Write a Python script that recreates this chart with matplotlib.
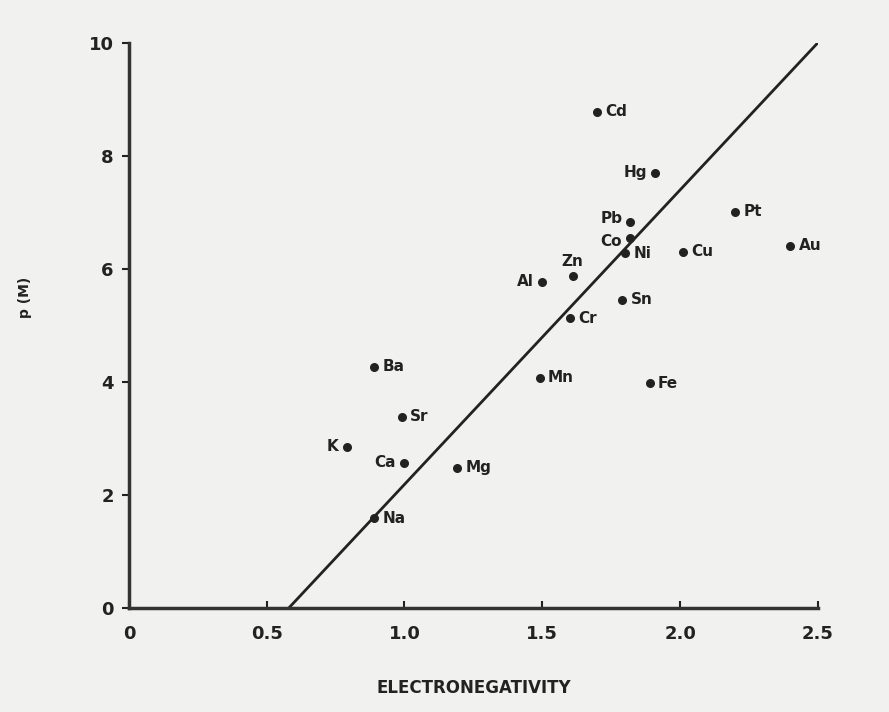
import matplotlib.pyplot as plt

# element, electronegativity, p(M)
elements = ['Cd', 'Hg', 'Pb', 'Co', 'Pt', 'Au', 'Cu', 'Ni', 'Zn', 'Al', 'Sn', 'Cr',
            'Mn', 'Fe', 'Ba', 'Sr', 'K', 'Ca', 'Mg', 'Na']
electroneg = [1.70, 1.91, 1.82, 1.82, 2.20, 2.40, 2.01, 1.80, 1.61, 1.50, 1.79, 1.60,
              1.49, 1.89, 0.89, 0.99, 0.79, 1.00, 1.19, 0.89]
pM = [8.78, 7.70, 6.82, 6.55, 7.01, 6.41, 6.30, 6.28, 5.88, 5.77, 5.45, 5.13,
      4.07, 3.98, 4.27, 3.38, 2.85, 2.57, 2.48, 1.59]
# which side the label sits on
side = ['r', 'l', 'l', 'l', 'r', 'r', 'r', 'r', 'u', 'l', 'r', 'r',
        'r', 'r', 'r', 'r', 'l', 'l', 'r', 'r']

fit_x = [0.58, 2.5]
fit_y = [0, 10]

fig = plt.figure(figsize=(8.89, 7.12), dpi=100)
fig.patch.set_facecolor('#f1f1ef')
ax = fig.add_axes([0.145, 0.146, 0.775, 0.794])
ax.set_facecolor('#f1f1ef')

ax.plot(fit_x, fit_y, color='#222222', lw=2)
ax.scatter(electroneg, pM, s=30, color='#222222', zorder=3)

for name, x, y, s in zip(elements, electroneg, pM, side):
    dy = 3 if name == 'Pb' else (-3 if name == 'Co' else 0)
    if s == 'r':
        ax.annotate(name, (x, y), xytext=(6, dy), textcoords='offset points',
                    ha='left', va='center', fontsize=11, fontweight='bold', color='#222222')
    elif s == 'l':
        ax.annotate(name, (x, y), xytext=(-6, dy), textcoords='offset points',
                    ha='right', va='center', fontsize=11, fontweight='bold', color='#222222')
    else:
        ax.annotate(name, (x, y), xytext=(0, 5), textcoords='offset points',
                    ha='center', va='bottom', fontsize=11, fontweight='bold', color='#222222')

ax.set_xlim(0, 2.5)
ax.set_ylim(0, 10)
ax.set_xticks([0, 0.5, 1.0, 1.5, 2.0, 2.5])
ax.set_xticklabels(['0', '0.5', '1.0', '1.5', '2.0', '2.5'])
ax.set_yticks([0, 2, 4, 6, 8, 10])
for sp in ['top', 'right']:
    ax.spines[sp].set_visible(False)
for sp in ['left', 'bottom']:
    ax.spines[sp].set_linewidth(2.5)
    ax.spines[sp].set_color('#333333')
ax.tick_params(axis='x', direction='in', length=5, width=1.5, pad=12, labelsize=13, colors='#222222')
ax.tick_params(axis='y', direction='out', length=5, width=1.5, pad=6, labelsize=13, colors='#222222')
for lab in ax.get_xticklabels() + ax.get_yticklabels():
    lab.set_fontweight('bold')

ax.set_xlabel('ELECTRONEGATIVITY', fontsize=12, fontweight='bold', color='#222222')
ax.xaxis.set_label_coords(0.5, -0.125)
ax.set_ylabel('p (M)', fontsize=10, fontweight='bold', color='#222222')
ax.yaxis.set_label_coords(-0.14, 0.55)

fig.savefig('out.png', facecolor=fig.get_facecolor())
